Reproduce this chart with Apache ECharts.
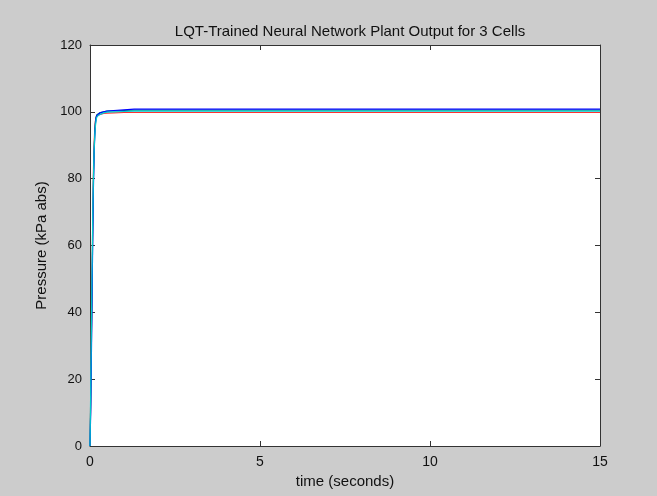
<!DOCTYPE html>
<html>
<head>
<meta charset="utf-8">
<script src="https://cdn.jsdelivr.net/npm/echarts@6/dist/echarts.min.js"></script>
<style>
  html, body { margin: 0; padding: 0; background: #cccccc; }
  #chart { width: 657px; height: 496px; }
</style>
</head>
<body>
<div id="chart"></div>
<script>
// sample times (s)
var timeSec = [0, 0.02, 0.04, 0.06, 0.08, 0.1, 0.12, 0.14, 0.16, 0.18, 0.2, 0.25, 0.3, 0.4, 0.5, 0.7, 1.0, 1.3, 1.6, 2, 15];
// plant output per cell (kPa abs)
var cell1 = [0, 10, 26, 44, 62, 77, 87, 93, 96.5, 98.2, 98.9, 99.4, 99.7, 100.0, 100.2, 100.4, 100.6, 100.8, 100.8, 100.8, 100.8];
var cell2 = [0, 12, 29, 47, 64, 79, 88, 94, 97, 98.5, 99.1, 99.5, 99.8, 100.0, 100.2, 100.3, 100.4, 100.5, 100.5, 100.5, 100.5];
var cell3 = [0, 14, 32, 50, 67, 82, 90, 95, 97.3, 98.4, 98.8, 99.1, 99.3, 99.5, 99.6, 99.7, 99.8, 99.8, 99.8, 99.8, 99.8];
var reference = [0, 16, 34, 52, 68, 80, 88, 93, 95.8, 97.5, 98.4, 99.0, 99.4, 99.7, 99.9, 100.0, 100.1, 100.2, 100.2, 100.2, 100.2];

function pairs(ys) {
  return timeSec.map(function (t, i) { return [t, ys[i]]; });
}

var chart = echarts.init(document.getElementById('chart'));

var axisCol = '#333333';
var font = 'Liberation Sans, Arial, sans-serif';

var option = {
  animation: false,
  backgroundColor: '#cccccc',
  title: {
    text: 'LQT-Trained Neural Network Plant Output for 3 Cells',
    left: 345,
    textAlign: 'center',
    top: 19,
    textStyle: { fontFamily: font, fontSize: 15, fontWeight: 'normal', color: '#111' }
  },
  grid: { left: 90, right: 57, top: 45, bottom: 50, show: true, backgroundColor: '#ffffff', borderWidth: 0 },
  xAxis: [{
    type: 'value', min: 0, max: 15, interval: 5,
    name: 'time (seconds)', nameLocation: 'middle', nameGap: 27,
    nameTextStyle: { fontFamily: font, fontSize: 15, color: '#111' },
    axisLine: { show: true, onZero: false, lineStyle: { color: axisCol, width: 1 } },
    axisTick: { show: true, inside: true, length: 5, lineStyle: { color: axisCol } },
    axisLabel: { fontFamily: font, fontSize: 14, color: '#111', margin: 9 },
    splitLine: { show: false }
  }, {
    type: 'value', min: 0, max: 15, interval: 5, position: 'top',
    axisLine: { show: true, onZero: false, lineStyle: { color: axisCol, width: 1 } },
    axisTick: { show: true, inside: true, length: 5, lineStyle: { color: axisCol } },
    axisLabel: { show: false },
    splitLine: { show: false }
  }],
  yAxis: [{
    type: 'value', min: 0, max: 120, interval: 20,
    name: 'Pressure (kPa abs)', nameLocation: 'middle', nameGap: 40,
    nameTextStyle: { fontFamily: font, fontSize: 15, color: '#111' },
    axisLine: { show: true, onZero: false, lineStyle: { color: axisCol, width: 1 } },
    axisTick: { show: true, inside: true, length: 5, lineStyle: { color: axisCol } },
    axisLabel: { fontFamily: font, fontSize: 13, color: '#111', margin: 8 },
    splitLine: { show: false }
  }, {
    type: 'value', min: 0, max: 120, interval: 20, position: 'right',
    axisLine: { show: true, onZero: false, lineStyle: { color: axisCol, width: 1 } },
    axisTick: { show: true, inside: true, length: 5, lineStyle: { color: axisCol } },
    axisLabel: { show: false },
    splitLine: { show: false }
  }],
  series: [
    { name: 'cell 3', type: 'line', data: pairs(cell3), showSymbol: false, lineStyle: { color: '#ff3030', width: 1.2 } },
    { name: 'cell 2', type: 'line', data: pairs(cell2), showSymbol: false, lineStyle: { color: '#008a7a', width: 1.2 } },
    { name: 'cell 1', type: 'line', data: pairs(cell1), showSymbol: false, lineStyle: { color: '#0000ff', width: 1.2 } },
    { name: 'reference', type: 'line', data: pairs(reference), showSymbol: false, lineStyle: { color: '#00cccc', width: 1.2 } }
  ]
};

chart.setOption(option);
</script>
</body>
</html>
